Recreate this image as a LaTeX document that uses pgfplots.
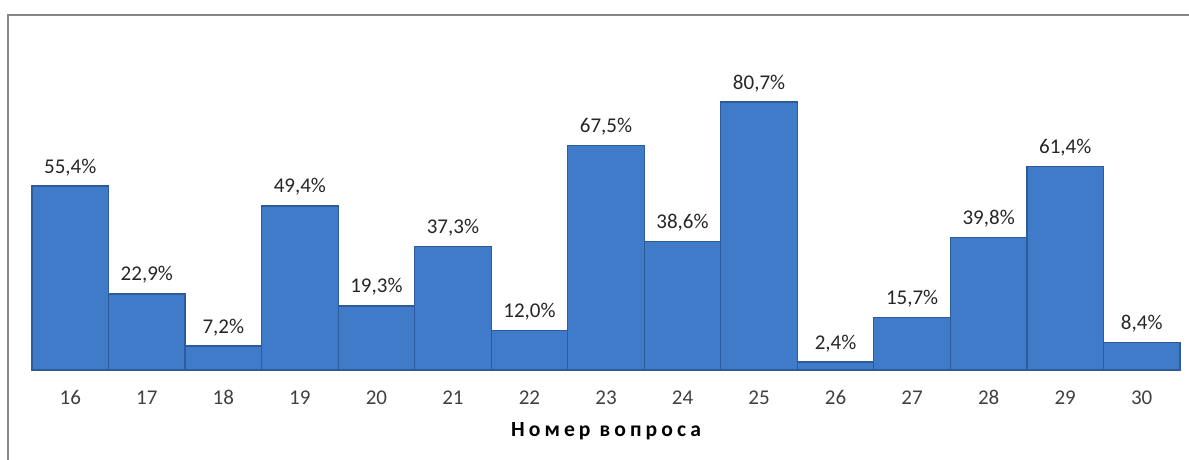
\documentclass[border=0pt]{standalone}
\usepackage{fontspec}
\setmainfont{Carlito}
\usepackage{pgfplots}
\pgfplotsset{compat=1.18}
\definecolor{barfill}{HTML}{3F7BC8}
\definecolor{baredge}{HTML}{2C5C9A}
\definecolor{framegray}{HTML}{878787}
\definecolor{ticktext}{HTML}{404040}
\begin{document}
\fontsize{10.5}{12.6}\selectfont
\begin{tikzpicture}
\useasboundingbox (0,0) rectangle (594.5pt,230pt);
\draw[framegray, line width=1pt] (4pt,0) -- (4pt,222.5pt) -- (594.5pt,222.5pt);
\begin{axis}[
  at={(16pt,45pt)}, anchor=south west,
  scale only axis, width=574pt, height=166pt,
  xmin=15.5, xmax=30.5, ymin=0, ymax=100,
  ybar, bar width=38.27pt,
  axis y line=none, axis x line*=bottom,
  x axis line style={draw=gray!60, line width=0.8pt, -},
  xtick=data, major tick length=0pt,
  xticklabel style={anchor=base, yshift=-17.5pt, text=ticktext, font=\fontsize{10.5}{12.6}\selectfont},
  xlabel={\addfontfeature{LetterSpace=19}\bfseries Номер вопроса},
  xlabel style={at={(rel axis cs:0.5,0)}, anchor=base, yshift=-33.5pt, font=\fontsize{10.8}{12.6}\selectfont},
  nodes near coords={\pgfmathprintnumber[fixed, fixed zerofill, precision=1, use comma, assume math mode=true]{\pgfplotspointmeta}\%},
  nodes near coords style={anchor=base, yshift=6.5pt, text=black!85, font=\fontsize{10.5}{12.6}\selectfont},
  /pgf/number format/assume math mode=true,
  clip=false,
]
\addplot[fill=barfill, draw=baredge, line width=0.6pt] coordinates {
(16,55.4) (17,22.9) (18,7.2) (19,49.4) (20,19.3) (21,37.3) (22,12.0) (23,67.5)
(24,38.6) (25,80.7) (26,2.4) (27,15.7) (28,39.8) (29,61.4) (30,8.4)
};
\end{axis}
\end{tikzpicture}
\end{document}
